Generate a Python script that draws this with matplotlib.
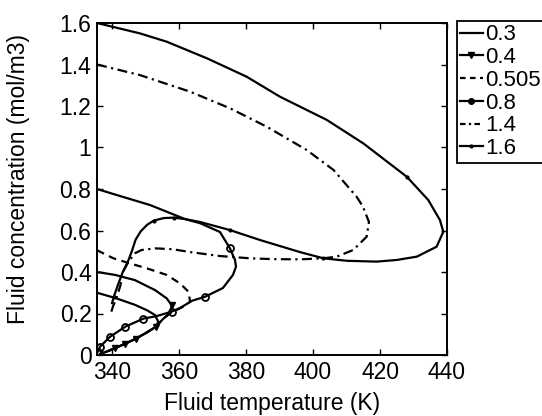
import matplotlib
matplotlib.use("Agg")
import matplotlib.pyplot as plt
from matplotlib.lines import Line2D

# ---- data ----
labels = ["0.3", "0.4", "0.505", "0.8", "1.4", "1.6"]

t_03 = [335.5, 340.9, 346.8, 350.5, 352.8, 353.8, 353.0, 350.0, 347.0, 344.0, 341.0, 338.5, 336.5]
c_03 = [0.300, 0.275, 0.242, 0.215, 0.193, 0.160, 0.135, 0.105, 0.078, 0.055, 0.034, 0.017, 0.006]

t_04 = [335.5, 340.9, 346.8, 352.8, 356.3, 357.8, 357.3, 355.0, 353.0, 350.0, 347.0, 344.0, 341.0, 338.5, 336.5]
c_04 = [0.400, 0.386, 0.361, 0.313, 0.273, 0.240, 0.205, 0.170, 0.135, 0.105, 0.078, 0.055, 0.034, 0.017, 0.006]

t_0505 = [335.5, 340.4, 345.0, 350.3, 356.3, 360.3, 362.8, 363.3, 361.5, 360.3, 357.3, 355.0, 353.0, 350.0, 347.0, 344.0, 341.0, 338.5, 336.5]
c_0505 = [0.505, 0.466, 0.443, 0.418, 0.386, 0.345, 0.305, 0.257, 0.235, 0.225, 0.201, 0.170, 0.135, 0.105, 0.078, 0.055, 0.034, 0.017, 0.006]

t_08 = [335.5, 342.4, 351.3, 361.8, 366.3, 372.2, 375.2, 376.7, 377.0, 376.1, 373.1, 367.8, 364.0, 360.3, 357.8, 353.4, 349.3, 343.9, 339.4, 336.4, 335.7]
c_08 = [0.800, 0.766, 0.723, 0.655, 0.635, 0.593, 0.514, 0.458, 0.426, 0.386, 0.323, 0.281, 0.262, 0.227, 0.209, 0.188, 0.175, 0.136, 0.088, 0.040, 0.015]

t_14 = [335.5, 348.3, 363.3, 375.2, 386.2, 398.1, 406.1, 413.0, 414.9, 416.7, 416.0, 412.0, 407.1, 403.1, 396.1, 388.0, 381.2, 372.2,
        363.3, 358.0, 352.8, 348.8, 346.8, 344.9, 343.4, 342.4, 341.2, 340.3, 339.6]
c_14 = [1.400, 1.349, 1.269, 1.189, 1.100, 0.988, 0.892, 0.763, 0.715, 0.641, 0.570, 0.506, 0.474, 0.466, 0.461, 0.462, 0.466, 0.477,
        0.496, 0.510, 0.514, 0.506, 0.490, 0.450, 0.405, 0.330, 0.270, 0.235, 0.200]

t_16 = [335.5, 348.3, 356.3, 368.3, 380.2, 390.1, 404.1, 415.0, 428.0, 434.4, 437.9, 438.9, 436.9, 431.0, 425.0, 419.0, 410.1, 403.1,
        396.1, 384.2, 375.2, 366.3, 361.8, 358.5, 355.5, 352.5, 350.5, 348.5, 347.0, 345.9, 344.6, 343.2, 341.8, 340.5, 340.0]
c_16 = [1.600, 1.550, 1.510, 1.430, 1.341, 1.245, 1.133, 1.020, 0.859, 0.747, 0.650, 0.594, 0.522, 0.474, 0.458, 0.450, 0.454, 0.466,
        0.496, 0.554, 0.602, 0.641, 0.655, 0.662, 0.660, 0.648, 0.628, 0.595, 0.555, 0.500, 0.445, 0.400, 0.340, 0.280, 0.250]

x_ticks = [340, 360, 380, 400, 420, 440]
y_ticks = [0, 0.2, 0.4, 0.6, 0.8, 1.0, 1.2, 1.4, 1.6]
y_tick_labels = ["0", "0.2", "0.4", "0.6", "0.8", "1", "1.2", "1.4", "1.6"]

# ---- figure ----
plt.rcParams['font.family'] = ['Liberation Sans', 'DejaVu Sans']
fig = plt.figure(figsize=(5.42, 4.16), dpi=100)
ax = fig.add_axes([97 / 542, 61 / 416, 350 / 542, 332 / 416])

lw = 1.6
styles = [
    dict(ls='-', marker=None),
    dict(ls='-', marker='v', ms=4, mfc='black', mec='black', markevery=[5, 8, 10, 11, 12]),
    dict(ls=(0, (3.5, 2.5)), marker=None),
    dict(ls='-', marker='o', ms=5, mfc='none', mec='black', mew=1.3, markevery=[6, 11, 14, 16, 17, 18, 19, 20]),
    dict(ls=(0, (4.5, 2, 1, 2)), marker=None),
    dict(ls='-', marker='.', ms=4, mfc='black', mec='black', markevery=[8, 17, 20, 23, 25, 33]),
]
series = [(t_03, c_03), (t_04, c_04), (t_0505, c_0505), (t_08, c_08), (t_14, c_14), (t_16, c_16)]

for (tt, cc), st, lab in zip(series, styles, labels):
    ax.plot(tt, cc, color='black', lw=lw, label=lab, **st)

ax.set_xlim(335.5, 440)
ax.set_ylim(0, 1.6)
ax.set_xticks(x_ticks)
ax.set_yticks(y_ticks)
ax.set_yticklabels(y_tick_labels)
ax.tick_params(direction='in', top=True, right=True, length=4, width=1, labelsize=16.5, pad=4)
for s in ax.spines.values():
    s.set_linewidth(1.4)
ax.set_xlabel("Fluid temperature (K)", fontsize=16.5, labelpad=6)
ax.set_ylabel("Fluid concentration (mol/m3)", fontsize=16.5)
ax.yaxis.set_label_coords(-0.19, 0.53)

# legend handles with filled markers
leg_handles = [
    Line2D([], [], color='black', lw=lw, ls='-'),
    Line2D([], [], color='black', lw=lw, ls='-', marker='v', ms=4),
    Line2D([], [], color='black', lw=lw, ls=(0, (2.5, 2))),
    Line2D([], [], color='black', lw=lw, ls='-', marker='o', ms=4),
    Line2D([], [], color='black', lw=lw, ls=(0, (2.5, 1.5, 1, 1.5))),
    Line2D([], [], color='black', lw=lw, ls='-', marker='.', ms=4),
]
leg = fig.legend(leg_handles, labels, loc='upper left', bbox_to_anchor=(457 / 542, 1 - 21 / 416),
                 frameon=True, fancybox=False, edgecolor='black', framealpha=1,
                 handlelength=1.0, handletextpad=0.1, borderpad=0.15, labelspacing=0.08,
                 borderaxespad=0, fontsize=16)
leg.get_frame().set_linewidth(1.3)

fig.savefig("out.png", dpi=100)
